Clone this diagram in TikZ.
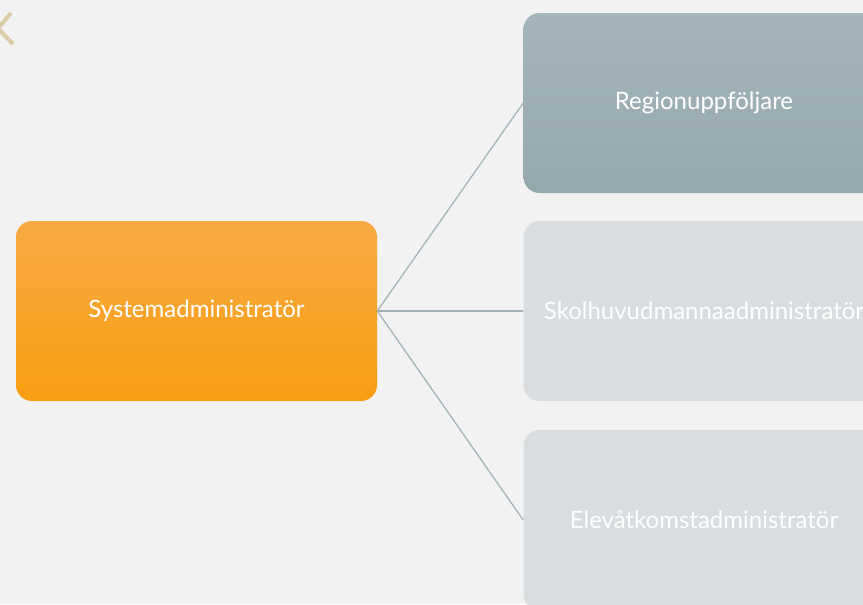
\documentclass[tikz,border=0pt]{standalone}
\usepackage{fontspec}
\setmainfont{Lato}
\usetikzlibrary{positioning,calc}
\definecolor{bggray}{HTML}{F2F2F2}
\definecolor{linkgray}{HTML}{9FB1B6}
\definecolor{paleblue}{HTML}{D9DDE0}
\definecolor{chevron}{HTML}{DACDA6}

\begin{document}
\begin{tikzpicture}[x=0.75pt,y=-0.75pt,
   role/.style={shape=rectangle,rounded corners=12pt,minimum width=270.75pt,minimum height=135pt,text=white,font=\fontsize{18}{21}\selectfont,inner sep=0pt},
   link/.style={draw=linkgray,line width=0.9pt}]
   \clip (0,0) rectangle (863,604);
   \fill[bggray] (0,0) rectangle (863,604);
   \draw[chevron,line width=3pt] (11,13) -- (-2,28.5) -- (13,44);
    \node[role,top color={rgb,255:red,247;green,170;blue,66},bottom color={rgb,255:red,250;green,158;blue,18}] (S) at (196.5,311) {Systemadministratör};
    \node[role,top color={rgb,255:red,164;green,182;blue,188},bottom color={rgb,255:red,149;green,168;blue,174}] (R) at (704,103) {Regionuppföljare};
    \node[role,fill=paleblue] (K) at (704,311) {Skolhuvudmannaadministratör};
    \node[role,fill=paleblue] (E) at (704,520) {Elevåtkomstadministratör};
    \path [-,link](S.east) edge node {} (R.west);
    \path [-,link](S.east) edge node {} (K.west);
    \path [-,link](S.east) edge node {} (E.west);
\end{tikzpicture}
\end{document}
